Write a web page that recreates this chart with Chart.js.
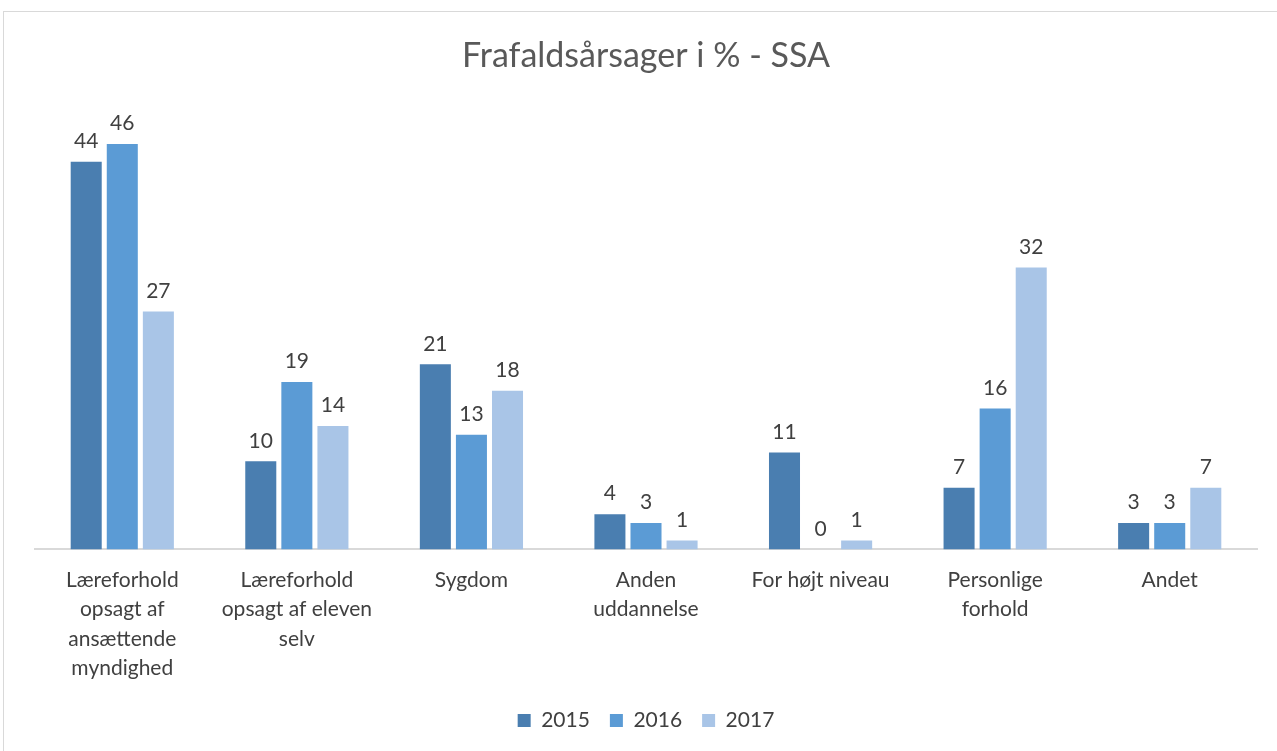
<!DOCTYPE html>
<html>
<head>
<meta charset="utf-8">
<script src="https://cdn.jsdelivr.net/npm/chart.js@4"></script>
<style>
  body { margin: 0; background: #fff; }
  #wrap { position: absolute; left: 0; top: 0; width: 1277px; height: 751px; }
  #frame { position: absolute; left: 3px; top: 11px; width: 1290px; height: 760px; border: 1px solid #d9d9d9; box-sizing: border-box; }
</style>
</head>
<body>
<div id="frame"></div>
<div id="wrap"><canvas id="chart"></canvas></div>
<script>
// --- Data ---
const categories = [
  ["Læreforhold", "opsagt af", "ansættende", "myndighed"],
  ["Læreforhold", "opsagt af eleven", "selv"],
  "Sygdom",
  ["Anden", "uddannelse"],
  "For højt niveau",
  ["Personlige", "forhold"],
  "Andet"
];
const years = ["2015", "2016", "2017"];
const values2015 = [44, 10, 21, 4, 11, 7, 3];
const values2016 = [46, 19, 13, 3, 0, 16, 3];
const values2017 = [27, 14, 18, 1, 1, 32, 7];
const colors = ["#4a7eb0", "#5b9bd5", "#a9c5e7"];

const fontFamily = "Lato, 'Open Sans', sans-serif";

// draws the value above each bar
const valueLabels = {
  id: 'valueLabels',
  afterDatasetsDraw(chart) {
    const ctx = chart.ctx;
    ctx.save();
    ctx.font = "21px " + fontFamily;
    ctx.fillStyle = "#404040";
    ctx.textAlign = "center";
    ctx.textBaseline = "bottom";
    chart.data.datasets.forEach((ds, i) => {
      chart.getDatasetMeta(i).data.forEach((bar, j) => {
        ctx.fillText(ds.data[j], bar.x, bar.y - 10);
      });
    });
    ctx.restore();
  }
};

new Chart(document.getElementById('chart').getContext('2d'), {
  type: 'bar',
  data: {
    labels: categories,
    datasets: [
      { label: years[0], data: values2015, backgroundColor: colors[0] },
      { label: years[1], data: values2016, backgroundColor: colors[1] },
      { label: years[2], data: values2017, backgroundColor: colors[2] }
    ]
  },
  options: {
    responsive: true,
    maintainAspectRatio: false,
    animation: false,
    layout: { padding: { left: 35, right: 20, top: 20, bottom: 10 } },
    datasets: { bar: { categoryPercentage: 0.62, barPercentage: 0.86 } },
    scales: {
      x: {
        grid: { display: false, drawTicks: false },
        border: { color: "#d9d9d9", width: 2 },
        ticks: { color: "#404040", font: { family: fontFamily, size: 21, lineHeight: 1.4 }, padding: 16, maxRotation: 0, autoSkip: false },
        afterFit(scale) { scale.height -= 9; }
      },
      y: { display: false, min: 0, max: 50 }
    },
    plugins: {
      title: {
        display: true,
        text: "Frafaldsårsager i % - SSA",
        color: "#595959",
        font: { family: fontFamily, size: 34, weight: 'normal' },
        padding: { top: 16, bottom: 32 }
      },
      legend: {
        position: 'bottom',
        labels: { color: "#404040", font: { family: fontFamily, size: 21 }, boxWidth: 13, boxHeight: 13, padding: 20 }
      },
      tooltip: { enabled: false }
    }
  },
  plugins: [valueLabels]
});
</script>
</body>
</html>
